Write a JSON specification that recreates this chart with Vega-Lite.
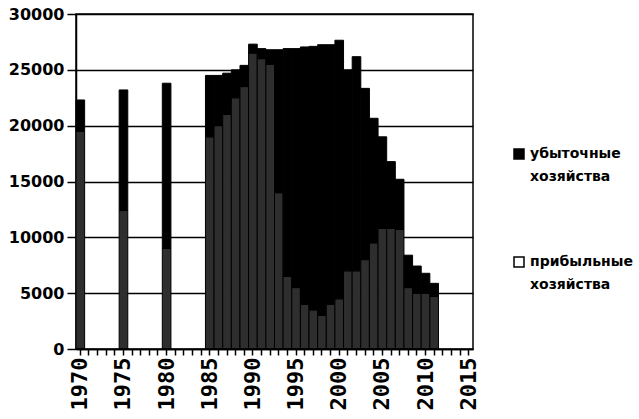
{
  "$schema": "https://vega.github.io/schema/vega-lite/v6.json",
  "width": 397,
  "height": 335,
  "autosize": "none",
  "padding": {"left": 76, "top": 14, "right": 166, "bottom": 70},
  "background": "white",
  "config": {
    "view": {"stroke": "#000", "strokeWidth": 1.5},
    "font": "DejaVu Sans"
  },
  "data": {
    "values": [
      {"year": 1970, "type": "прибыльные хозяйства", "value": 19500},
      {"year": 1970, "type": "убыточные хозяйства", "value": 2800},
      {"year": 1975, "type": "прибыльные хозяйства", "value": 12400},
      {"year": 1975, "type": "убыточные хозяйства", "value": 10800},
      {"year": 1980, "type": "прибыльные хозяйства", "value": 9000},
      {"year": 1980, "type": "убыточные хозяйства", "value": 14800},
      {"year": 1985, "type": "прибыльные хозяйства", "value": 19000},
      {"year": 1985, "type": "убыточные хозяйства", "value": 5500},
      {"year": 1986, "type": "прибыльные хозяйства", "value": 20000},
      {"year": 1986, "type": "убыточные хозяйства", "value": 4500},
      {"year": 1987, "type": "прибыльные хозяйства", "value": 21000},
      {"year": 1987, "type": "убыточные хозяйства", "value": 3700},
      {"year": 1988, "type": "прибыльные хозяйства", "value": 22500},
      {"year": 1988, "type": "убыточные хозяйства", "value": 2500},
      {"year": 1989, "type": "прибыльные хозяйства", "value": 23500},
      {"year": 1989, "type": "убыточные хозяйства", "value": 1900},
      {"year": 1990, "type": "прибыльные хозяйства", "value": 26500},
      {"year": 1990, "type": "убыточные хозяйства", "value": 800},
      {"year": 1991, "type": "прибыльные хозяйства", "value": 26000},
      {"year": 1991, "type": "убыточные хозяйства", "value": 900},
      {"year": 1992, "type": "прибыльные хозяйства", "value": 25500},
      {"year": 1992, "type": "убыточные хозяйства", "value": 1300},
      {"year": 1993, "type": "прибыльные хозяйства", "value": 14000},
      {"year": 1993, "type": "убыточные хозяйства", "value": 12800},
      {"year": 1994, "type": "прибыльные хозяйства", "value": 6500},
      {"year": 1994, "type": "убыточные хозяйства", "value": 20400},
      {"year": 1995, "type": "прибыльные хозяйства", "value": 5500},
      {"year": 1995, "type": "убыточные хозяйства", "value": 21400},
      {"year": 1996, "type": "прибыльные хозяйства", "value": 4000},
      {"year": 1996, "type": "убыточные хозяйства", "value": 23050},
      {"year": 1997, "type": "прибыльные хозяйства", "value": 3500},
      {"year": 1997, "type": "убыточные хозяйства", "value": 23600},
      {"year": 1998, "type": "прибыльные хозяйства", "value": 3000},
      {"year": 1998, "type": "убыточные хозяйства", "value": 24250},
      {"year": 1999, "type": "прибыльные хозяйства", "value": 4000},
      {"year": 1999, "type": "убыточные хозяйства", "value": 23250},
      {"year": 2000, "type": "прибыльные хозяйства", "value": 4500},
      {"year": 2000, "type": "убыточные хозяйства", "value": 23150},
      {"year": 2001, "type": "прибыльные хозяйства", "value": 7000},
      {"year": 2001, "type": "убыточные хозяйства", "value": 18000},
      {"year": 2002, "type": "прибыльные хозяйства", "value": 7000},
      {"year": 2002, "type": "убыточные хозяйства", "value": 19180},
      {"year": 2003, "type": "прибыльные хозяйства", "value": 8000},
      {"year": 2003, "type": "убыточные хозяйства", "value": 15340},
      {"year": 2004, "type": "прибыльные хозяйства", "value": 9500},
      {"year": 2004, "type": "убыточные хозяйства", "value": 11160},
      {"year": 2005, "type": "прибыльные хозяйства", "value": 10800},
      {"year": 2005, "type": "убыточные хозяйства", "value": 8200},
      {"year": 2006, "type": "прибыльные хозяйства", "value": 10800},
      {"year": 2006, "type": "убыточные хозяйства", "value": 5980},
      {"year": 2007, "type": "прибыльные хозяйства", "value": 10700},
      {"year": 2007, "type": "убыточные хозяйства", "value": 4500},
      {"year": 2008, "type": "прибыльные хозяйства", "value": 5500},
      {"year": 2008, "type": "убыточные хозяйства", "value": 2900},
      {"year": 2009, "type": "прибыльные хозяйства", "value": 5000},
      {"year": 2009, "type": "убыточные хозяйства", "value": 2430},
      {"year": 2010, "type": "прибыльные хозяйства", "value": 5000},
      {"year": 2010, "type": "убыточные хозяйства", "value": 1780},
      {"year": 2011, "type": "прибыльные хозяйства", "value": 4700},
      {"year": 2011, "type": "убыточные хозяйства", "value": 1180}
    ]
  },
  "encoding": {
    "x": {
      "field": "year",
      "type": "ordinal",
      "scale": {
        "domain": [1970,1971,1972,1973,1974,1975,1976,1977,1978,1979,1980,1981,1982,1983,1984,1985,1986,1987,1988,1989,1990,1991,1992,1993,1994,1995,1996,1997,1998,1999,2000,2001,2002,2003,2004,2005,2006,2007,2008,2009,2010,2011,2012,2013,2014,2015],
        "paddingInner": 0,
        "paddingOuter": 0
      },
      "axis": {
        "title": null,
        "labelExpr": "datum.value % 5 == 0 ? datum.label : ''",
        "labelAngle": 270,
        "labelAlign": "right",
        "labelBaseline": "middle",
        "labelFont": "DejaVu Sans Mono",
        "labelFontWeight": "bold",
        "labelFontSize": 22,
        "labelColor": "#000",
        "labelPadding": 2,
        "labelOverlap": false,
        "tickColor": "#000",
        "tickSize": 6,
        "tickWidth": 1.5,
        "domainColor": "#000",
        "domainWidth": 1.5,
        "grid": false
      }
    }
  },
  "layer": [
    {
      "mark": {"type": "bar", "stroke": "#000", "strokeWidth": 1},
      "encoding": {
        "y": {
          "field": "value",
          "type": "quantitative",
          "aggregate": "sum",
          "stack": "zero",
          "scale": {"domain": [0, 30000], "nice": false},
          "axis": {
            "title": null,
            "values": [0, 5000, 10000, 15000, 20000, 25000, 30000],
            "format": "d",
            "labelFont": "DejaVu Sans",
            "labelFontWeight": "bold",
            "labelFontSize": 16,
            "labelColor": "#000",
            "labelPadding": 3,
            "tickColor": "#000",
            "tickSize": 9,
            "tickWidth": 1.5,
            "domainColor": "#000",
            "domainWidth": 1.5,
            "grid": true,
            "gridColor": "#000",
            "gridWidth": 1.5,
            "gridOpacity": 1
          }
        },
        "detail": {"field": "type"},
        "fill": {
          "condition": {"test": "datum.type === 'прибыльные хозяйства'", "value": "#2e2e2e"},
          "value": "#000000"
        },
        "order": {"field": "type", "sort": "ascending"}
      }
    },
    {
      "mark": {"type": "bar", "stroke": "#000", "strokeWidth": 1.5},
      "encoding": {
        "y": {"datum": 0},
        "y2": {"datum": 0},
        "color": {
          "field": "type",
          "type": "nominal",
          "scale": {
            "domain": ["убыточные хозяйства", "прибыльные хозяйства"],
            "range": ["#000000", "#ffffff"]
          },
          "legend": {
            "title": null,
            "orient": "none",
            "legendX": 436,
            "legendY": 133,
            "padding": 0,
            "symbolType": "square",
            "symbolSize": 100,
            "symbolStrokeColor": "#000",
            "symbolStrokeWidth": 1.5,
            "labelFont": "DejaVu Sans",
            "labelFontWeight": "bold",
            "labelFontSize": 14,
            "labelColor": "#000",
            "labelOffset": 4,
            "labelLineHeight": 23,
            "labelBaseline": "top",
            "labelLimit": 200,
            "rowPadding": 70,
            "labelExpr": "split(datum.label, ' ')",
            "encode": {
              "labels": {
                "update": {"dy": {"value": -7}, "lineHeight": {"value": 23}}
              }
            }
          }
        }
      }
    }
  ]
}
